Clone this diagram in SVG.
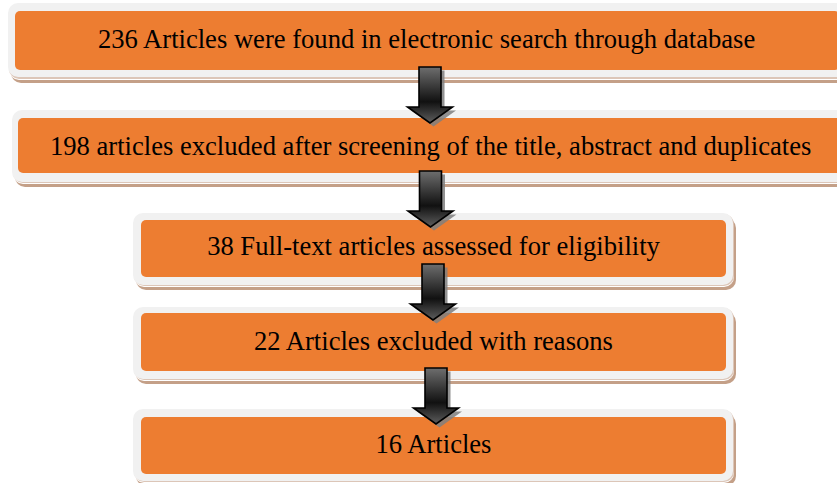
<svg xmlns="http://www.w3.org/2000/svg" width="837" height="483" viewBox="0 0 837 483">
<defs>
<style>
.sh{fill:#c4a088}
.ln{fill:#ffffff}
.fr{fill:#f1f1f1}
.in{fill:#ed7d31}
.tx{font-family:"Liberation Serif","Times New Roman",serif;font-size:26.6px;fill:#000}
.ar{fill:url(#ag);stroke:#000;stroke-width:1.6;stroke-linejoin:miter}
.as{fill:#7f7f7f;opacity:0.85}
</style>
<linearGradient id="ag" x1="0" y1="0" x2="0" y2="1">
<stop offset="0" stop-color="#6e6e6e"/>
<stop offset="0.45" stop-color="#2a2a2a"/>
<stop offset="0.62" stop-color="#111"/>
<stop offset="1" stop-color="#5e5e5e"/>
</linearGradient>
<path id="arrow" d="M-11,0 H11 V40 H22.5 L0,56 L-22.5,40 H-11 Z"/>
</defs>

<g id="node1">
<rect class="sh" x="11" y="8" width="845" height="75" rx="10"/>
<rect class="ln" x="9" y="5" width="845" height="75" rx="10"/>
<rect class="sh" x="9" y="4" width="845" height="75" rx="10" opacity="0.6"/>
<rect class="fr" x="8" y="3" width="845" height="74" rx="10"/>
<rect class="in" x="15" y="11" width="825" height="59" rx="5"/>
<text class="tx" x="98" y="48">236 Articles were found in electronic search through database</text>
</g>

<g id="node2">
<rect class="sh" x="15" y="115" width="845" height="72" rx="10"/>
<rect class="ln" x="13" y="112" width="845" height="72" rx="10"/>
<rect class="sh" x="13" y="111" width="845" height="72" rx="10" opacity="0.6"/>
<rect class="fr" x="12" y="110" width="845" height="72" rx="10"/>
<rect class="in" x="18" y="118" width="825" height="55" rx="5"/>
<text class="tx" x="50" y="155">198 articles excluded after screening of the title, abstract and duplicates</text>
</g>

<g id="node3">
<rect class="sh" x="136" y="218" width="600" height="72" rx="10"/>
<rect class="ln" x="134" y="215" width="600" height="72" rx="10"/>
<rect class="sh" x="134" y="214" width="600" height="72" rx="10" opacity="0.6"/>
<rect class="fr" x="133" y="213" width="600" height="72" rx="10"/>
<rect class="in" x="141" y="220" width="585" height="57" rx="5"/>
<text class="tx" x="433.5" y="255" text-anchor="middle">38 Full-text articles assessed for eligibility</text>
</g>

<g id="node4">
<rect class="sh" x="136" y="312" width="600" height="72" rx="10"/>
<rect class="ln" x="134" y="309" width="600" height="72" rx="10"/>
<rect class="sh" x="134" y="308" width="600" height="72" rx="10" opacity="0.6"/>
<rect class="fr" x="133" y="307" width="600" height="72" rx="10"/>
<rect class="in" x="141" y="313" width="585" height="58" rx="5"/>
<text class="tx" x="433.5" y="350" text-anchor="middle">22 Articles excluded with reasons</text>
</g>

<g id="node5">
<rect class="sh" x="136" y="414" width="600" height="72" rx="10"/>
<rect class="ln" x="134" y="411" width="600" height="72" rx="10"/>
<rect class="sh" x="134" y="410" width="600" height="72" rx="10" opacity="0.6"/>
<rect class="fr" x="133" y="409" width="600" height="72" rx="10"/>
<rect class="in" x="141" y="417" width="585" height="57" rx="5"/>
<text class="tx" x="433.5" y="453" text-anchor="middle">16 Articles</text>
</g>

<g id="connectors">
<g transform="translate(430,67)"><use href="#arrow" class="as" transform="translate(3.5,3.5)"/><use href="#arrow" class="ar"/></g>
<g transform="translate(430.5,171)"><use href="#arrow" class="as" transform="translate(3.5,3.5)"/><use href="#arrow" class="ar"/></g>
<g transform="translate(433,264)"><use href="#arrow" class="as" transform="translate(3.5,3.5)"/><use href="#arrow" class="ar"/></g>
<g transform="translate(436,368)"><use href="#arrow" class="as" transform="translate(3.5,3.5)"/><use href="#arrow" class="ar"/></g>
</g>
</svg>
